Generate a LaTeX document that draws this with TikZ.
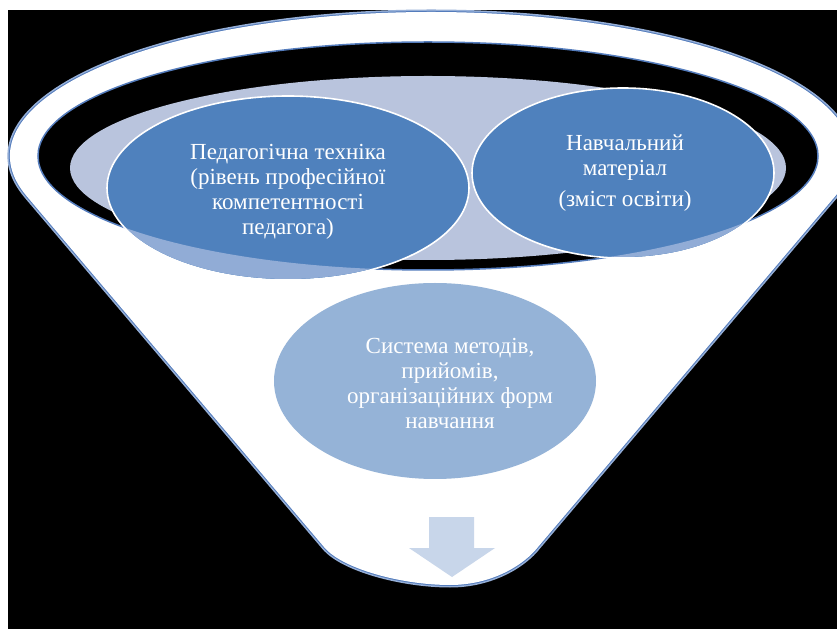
\documentclass[tikz,border=0pt]{standalone}
\usepackage{fontspec}
\setmainfont{Liberation Serif}
\newfontfamily\txtserif{Liberation Serif}
\usetikzlibrary{shapes.geometric}
\definecolor{dkblue}{RGB}{79,129,189}
\definecolor{ltblue}{RGB}{149,179,215}
\definecolor{crescblue}{RGB}{145,172,214}
\definecolor{lavender}{RGB}{185,196,221}
\definecolor{arrowcol}{RGB}{200,214,234}
\definecolor{edgeblue}{RGB}{84,124,188}
\definecolor{glowblue}{RGB}{150,175,215}
\begin{document}
\begin{tikzpicture}[x=1pt,y=1pt,
  blob/.style={ellipse, draw=white, line width=1.6pt, inner sep=0pt},
  lbl/.style={text=white, align=center, font=\txtserif\fontsize{23}{25}\selectfont, inner sep=0pt}]
\useasboundingbox (0,0) rectangle (837,629);
\fill[white] (0,0) rectangle (837,629);
\fill[black] (8,0) rectangle (837,619);
% funnel body with soft blue edge
\draw[glowblue, line width=5pt, line join=round] (26.7,432.8) arc[start angle=196.2, end angle=-16.2, x radius=421, y radius=144] -- (538,82) .. controls (524,64) and (492,44) .. (450,44) .. controls (402,44) and (342,60) .. (324,82) -- cycle;
\draw[edgeblue, line width=2pt, line join=round] (26.7,432.8) arc[start angle=196.2, end angle=-16.2, x radius=421, y radius=144] -- (538,82) .. controls (524,64) and (492,44) .. (450,44) .. controls (402,44) and (342,60) .. (324,82) -- cycle;
\fill[white] (26.7,432.8) arc[start angle=196.2, end angle=-16.2, x radius=421, y radius=144] -- (538,82) .. controls (524,64) and (492,44) .. (450,44) .. controls (402,44) and (342,60) .. (324,82) -- cycle;
% opening
\filldraw[fill=black, draw=edgeblue, line width=1.5pt] (428,473) ellipse [x radius=390, y radius=114];
\begin{scope}
\clip (428,473) ellipse [x radius=389, y radius=113];
\fill[lavender] (428,461) ellipse [x radius=358, y radius=92];
\end{scope}
% upper ellipses
\node[blob, fill=dkblue, minimum width=362pt, minimum height=184pt] (ped) at (288,441) {};
\node[blob, fill=dkblue, minimum width=302pt, minimum height=170pt] (mat) at (623,456) {};
\begin{scope}[even odd rule]
\clip (0,0) rectangle (837,629) (428,473) ellipse [x radius=390, y radius=114];
\fill[crescblue] (ped.center) ellipse [x radius=180, y radius=91];
\fill[crescblue] (mat.center) ellipse [x radius=150, y radius=84];
\end{scope}
% lower ellipse
\node[blob, draw=none, fill=ltblue, minimum width=322pt, minimum height=196pt] (sys) at (435,248) {};
% arrow
\fill[arrowcol] (429,112) -- (474,112) -- (474,81) -- (495,81) -- (452,52) -- (409,81) -- (429,81) -- cycle;
% texts
\node[lbl] (tped) at (288,437.5) {Педагогічна техніка\\(рівень професійної\\компетентності\\педагога)};
\node[lbl] (tmat) at (625,456) {Навчальний\\матеріал\\[6pt](зміст освіти)};
\node[lbl] (tsys) at (450,245.5) {Система методів,\\прийомів,\\організаційних форм\\навчання};
\end{tikzpicture}
\end{document}
